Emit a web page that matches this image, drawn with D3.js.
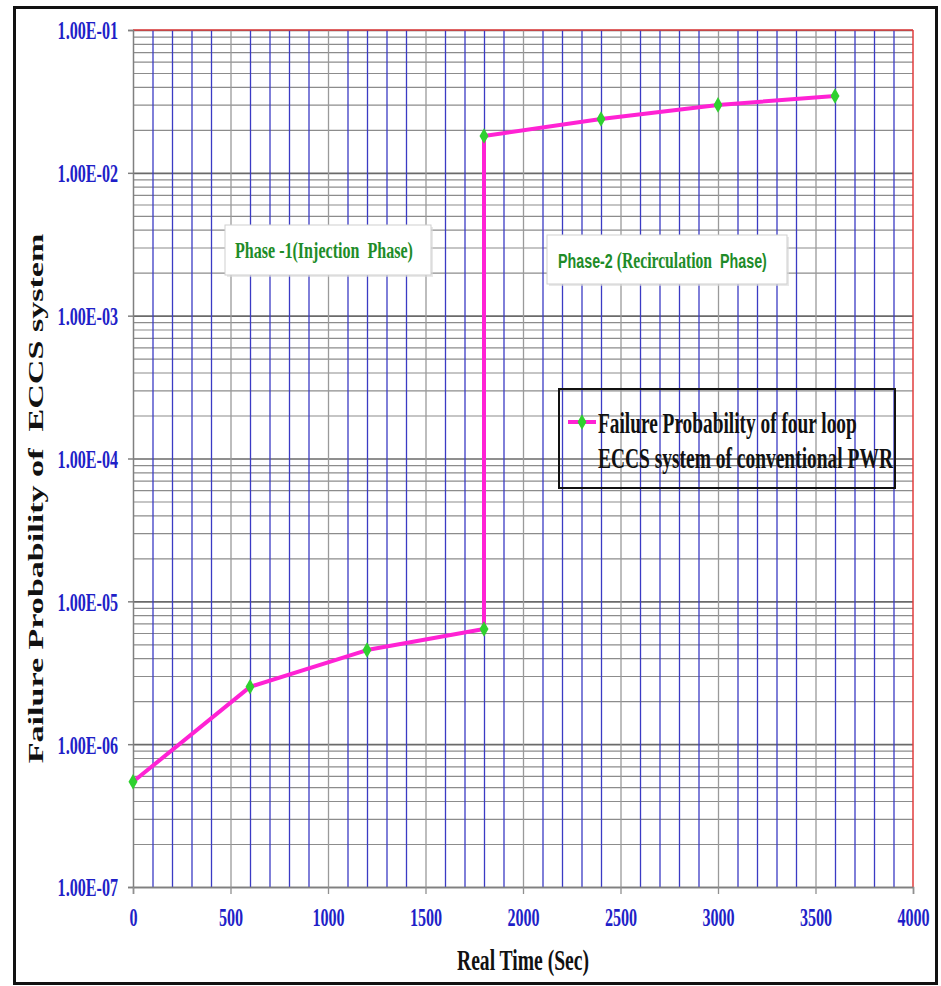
<!DOCTYPE html>
<html>
<head>
<meta charset="utf-8">
<script src="https://cdn.jsdelivr.net/npm/d3@7/dist/d3.min.js"></script>
<style>
  html, body { margin: 0; padding: 0; background: #fff; }
  svg { display: block; }
  text { white-space: pre; }
</style>
</head>
<body>
<svg id="chart" width="941" height="986"></svg>
<script>
// ---- data ----
const times = [0, 600, 1200, 1800, 1800, 2400, 3000, 3600];
const probs = [5.45e-7, 2.52e-6, 4.56e-6, 6.4e-6, 1.81e-2, 2.38e-2, 2.99e-2, 3.45e-2];
const xTickValues = [0, 500, 1000, 1500, 2000, 2500, 3000, 3500, 4000];
const yTickValues = [1e-7, 1e-6, 1e-5, 1e-4, 1e-3, 1e-2, 1e-1];
const yTickLabels = ["1.00E-07", "1.00E-06", "1.00E-05", "1.00E-04", "1.00E-03", "1.00E-02", "1.00E-01"];
const seriesName = ["Failure Probability of four loop", "ECCS system of conventional PWR"];
const xTitle = "Real Time (Sec)";
const yTitle = "Failure Probability of  ECCS system";
const phase1 = "Phase -1(Injection  Phase)";
const phase2Parts = ["Phase-2 ", "(Recirculation", "  Phase)"];

// ---- layout ----
const W = 941, H = 986;
const margin = {left: 133, top: 30, right: 28, bottom: 99};
const iw = W - margin.left - margin.right;
const ih = H - margin.top - margin.bottom;
const SERIF = "'Liberation Serif', 'Times New Roman', serif";
const SANS = "'Liberation Sans', Arial, sans-serif";
const TICK_BLUE = "#1f1fc8";
const PINK = "#ff22d4";
const GREEN_MK = "#2fd12f";

const svg = d3.select("#chart");
svg.append("rect").attr("width", W).attr("height", H).attr("fill", "#fff");

const x = d3.scaleLinear().domain([0, 4000]).range([0, iw]);
const y = d3.scaleLog().domain([1e-7, 1e-1]).range([ih, 0]);

const g = svg.append("g").attr("transform", `translate(${margin.left},${margin.top})`);

// place a text at (px,py) (+ optional rotation) squeezed horizontally to a target width
function fitText(sel, px, py, target, rot) {
  sel.attr("x", 0).attr("y", 0);
  const node = sel.node();
  const w = node.getComputedTextLength();
  const sx = target / w;
  sel.attr("transform", `translate(${px},${py})${rot ? ` rotate(${rot})` : ""} scale(${sx},1)`);
}
function condenseTicks(sel, dx, dy, f) {
  sel.each(function() {
    d3.select(this).attr("x", 0).attr("y", 0)
      .attr("transform", `translate(${dx},${dy}) scale(${f},1)`);
  });
}

// horizontal grid (log minor + major)
const isMajor = d => yTickValues.some(v => Math.abs(v - d) / v < 1e-6);
const hGrid = g.append("g").call(
  d3.axisLeft(y).tickValues(y.ticks()).tickSize(-iw).tickFormat("")
);
hGrid.select(".domain").remove();
hGrid.selectAll(".tick line")
  .attr("stroke", d => isMajor(d) ? "#6a6a6a" : "#8c8c8c")
  .attr("stroke-width", d => isMajor(d) ? 1.7 : 1.2);

// vertical grid
const vGrid = g.append("g").attr("transform", `translate(0,${ih})`).call(
  d3.axisBottom(x).tickValues(d3.range(100, 4000, 100)).tickSize(-ih).tickFormat("")
);
vGrid.select(".domain").remove();
vGrid.selectAll(".tick line")
  .attr("stroke", d => d % 500 === 0 ? "#9a9a9a" : "#3b3bc4")
  .attr("stroke-width", 1.3);

// red top and right borders
g.append("line").attr("x1", 0).attr("x2", iw).attr("y1", 0).attr("y2", 0)
  .attr("stroke", "#e03c3c").attr("stroke-width", 1.5);
g.append("line").attr("x1", iw).attr("x2", iw).attr("y1", 0).attr("y2", ih)
  .attr("stroke", "#e03c3c").attr("stroke-width", 1.5);

// y axis
const yAxis = g.append("g").call(
  d3.axisLeft(y).tickValues(yTickValues).tickSize(5).tickPadding(10)
    .tickFormat((d, i) => yTickLabels[i])
);
yAxis.select(".domain").attr("stroke", "#808080").attr("stroke-width", 1.5);
yAxis.selectAll(".tick line").attr("stroke", "#808080").attr("stroke-width", 1.5);
yAxis.selectAll(".tick text")
  .attr("font-family", SERIF).attr("font-weight", "bold").attr("font-size", 26)
  .attr("fill", TICK_BLUE).attr("dy", "0.34em")
  .call(condenseTicks, -15, 0, 0.62);

// x axis
const xAxis = g.append("g").attr("transform", `translate(0,${ih})`).call(
  d3.axisBottom(x).tickValues(xTickValues).tickSize(7).tickPadding(8).tickFormat(d3.format("d"))
);
xAxis.select(".domain").attr("stroke", "#808080").attr("stroke-width", 1.5);
xAxis.selectAll(".tick line").attr("stroke", "#909090").attr("stroke-width", 1.3);
xAxis.selectAll(".tick text")
  .attr("font-family", SERIF).attr("font-weight", "bold").attr("font-size", 26)
  .attr("fill", TICK_BLUE).attr("dy", "0.71em")
  .call(condenseTicks, 0, 21, 0.62);

// axis titles
svg.append("text")
  .attr("text-anchor", "middle")
  .attr("font-family", SERIF).attr("font-weight", "bold").attr("font-size", 30)
  .attr("fill", "#111")
  .text(xTitle)
  .call(fitText, margin.left + iw / 2, 970, 132);

svg.append("text")
  .attr("text-anchor", "middle")
  .attr("font-family", SERIF).attr("font-weight", "bold").attr("font-size", 22)
  .attr("fill", "#111")
  .text(yTitle)
  .call(fitText, 43, margin.top + ih / 2 + 40, 530, -90);

// data line
const line = d3.line().x((d, i) => x(times[i])).y(d => y(d));
g.append("path").datum(probs)
  .attr("d", line)
  .attr("fill", "none").attr("stroke", PINK).attr("stroke-width", 4)
  .attr("stroke-linejoin", "round");

const diamond = d3.symbol().type(d3.symbolDiamond).size(70);
g.selectAll(".pt").data(probs).enter().append("path")
  .attr("class", "pt")
  .attr("d", diamond)
  .attr("transform", (d, i) => `translate(${x(times[i])},${y(d)})`)
  .attr("fill", GREEN_MK);

// phase annotations
function phaseBox(bx, by, bw, bh) {
  svg.append("rect").attr("x", bx + 2).attr("y", by + 2).attr("width", bw).attr("height", bh)
    .attr("fill", "#d8d8d8").attr("opacity", 0.6);
  svg.append("rect").attr("x", bx).attr("y", by).attr("width", bw).attr("height", bh)
    .attr("fill", "#fff").attr("stroke", "#cfcfcf").attr("stroke-width", 1);
}
phaseBox(225, 225, 206, 50);
svg.append("text")
  .attr("font-family", SERIF).attr("font-weight", "bold").attr("font-size", 23)
  .attr("fill", "#1e8c28")
  .text(phase1)
  .call(fitText, 235, 258, 178);

phaseBox(547, 235, 240, 49);
const p2 = svg.append("text")
  .attr("font-size", 21).attr("font-weight", "bold")
  .attr("fill", "#1e8c28");
p2.append("tspan").attr("font-family", SANS).text(phase2Parts[0]);
p2.append("tspan").attr("font-family", SERIF).attr("font-size", 23).text(phase2Parts[1]);
p2.append("tspan").attr("font-family", SANS).text(phase2Parts[2]);
p2.call(fitText, 558, 268, 209);

// legend
svg.append("rect").attr("x", 559).attr("y", 389).attr("width", 336).attr("height", 99)
  .attr("fill", "none").attr("stroke", "#111").attr("stroke-width", 2);
svg.append("line").attr("x1", 568).attr("x2", 596).attr("y1", 422).attr("y2", 422)
  .attr("stroke", PINK).attr("stroke-width", 4);
svg.append("path").attr("d", diamond).attr("transform", "translate(582,422)").attr("fill", GREEN_MK);
svg.append("text")
  .attr("font-family", SERIF).attr("font-weight", "bold").attr("font-size", 29)
  .attr("fill", "#111")
  .text(seriesName[0])
  .call(fitText, 598, 433, 259);
svg.append("text")
  .attr("font-family", SERIF).attr("font-weight", "bold").attr("font-size", 29)
  .attr("fill", "#111")
  .text(seriesName[1])
  .call(fitText, 598, 468, 295);

// outer frame
svg.append("rect").attr("x", 14.5).attr("y", 7.5).attr("width", 922).attr("height", 976)
  .attr("fill", "none").attr("stroke", "#111").attr("stroke-width", 3);
</script>
</body>
</html>
